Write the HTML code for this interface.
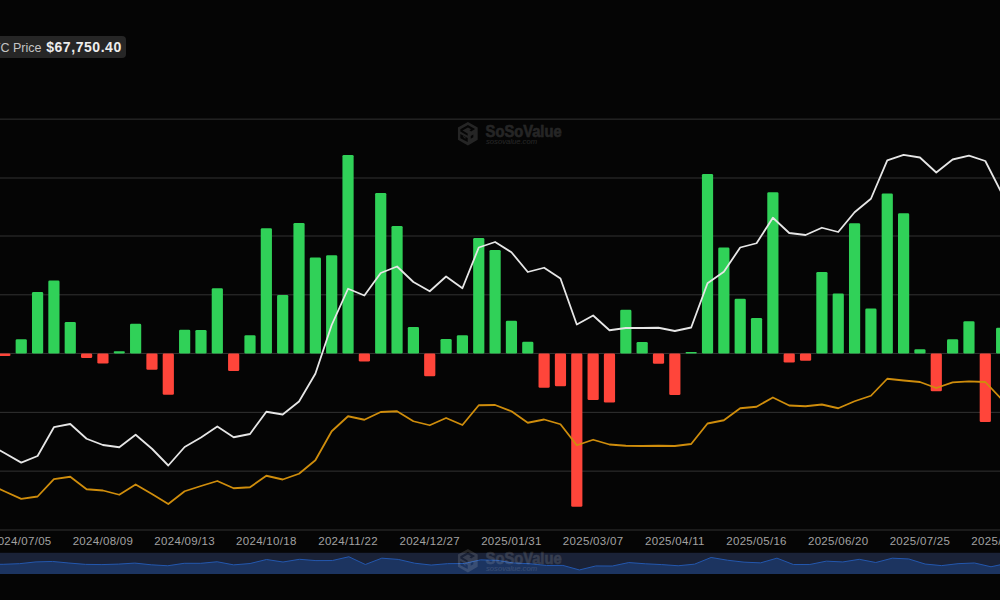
<!DOCTYPE html>
<html lang="en"><head><meta charset="utf-8"><title>BTC ETF Net Inflow</title>
<style>
html,body{margin:0;padding:0;background:#050505;}
body{width:1000px;height:600px;overflow:hidden;position:relative;font-family:"Liberation Sans",sans-serif;}
svg{position:absolute;left:0;top:0;display:block;}
svg text{font-family:"Liberation Sans",sans-serif;}
.tag{position:absolute;left:-20px;top:36.1px;width:146px;height:21.7px;background:#262626;border-radius:4px;}
.tag span{position:absolute;white-space:nowrap;}
.tag .l{left:4.5px;top:5.0px;font-size:12.5px;line-height:14px;color:#c4c4c4;}
.tag .v{left:66.2px;top:4.2px;font-size:14px;line-height:15px;font-weight:bold;letter-spacing:0.55px;color:#ededed;}
</style></head><body>
<svg width="1000" height="600" viewBox="0 0 1000 600">
<rect width="1000" height="600" fill="#050505"/>
<g stroke="#333333" stroke-width="1"><line x1="0" x2="1000" y1="119.15" y2="119.15"/><line x1="0" x2="1000" y1="178.00" y2="178.00"/><line x1="0" x2="1000" y1="236.00" y2="236.00"/><line x1="0" x2="1000" y1="294.80" y2="294.80"/><line x1="0" x2="1000" y1="353.45" y2="353.45"/><line x1="0" x2="1000" y1="412.35" y2="412.35"/><line x1="0" x2="1000" y1="471.15" y2="471.15"/><line x1="0" x2="1000" y1="530.0" y2="530.0"/></g>
<g fill="#30d158"><rect x="15.64" y="339.25" width="11.2" height="14.20" rx="1.30"/><rect x="31.98" y="292.00" width="11.2" height="61.45" rx="1.30"/><rect x="48.32" y="280.50" width="11.2" height="72.95" rx="1.30"/><rect x="64.66" y="322.00" width="11.2" height="31.45" rx="1.30"/><rect x="113.68" y="351.25" width="11.2" height="2.20" rx="1.10"/><rect x="130.02" y="323.75" width="11.2" height="29.70" rx="1.30"/><rect x="179.04" y="329.75" width="11.2" height="23.70" rx="1.30"/><rect x="195.38" y="330.00" width="11.2" height="23.45" rx="1.30"/><rect x="211.72" y="288.25" width="11.2" height="65.20" rx="1.30"/><rect x="244.40" y="335.25" width="11.2" height="18.20" rx="1.30"/><rect x="260.74" y="228.25" width="11.2" height="125.20" rx="1.30"/><rect x="277.08" y="295.00" width="11.2" height="58.45" rx="1.30"/><rect x="293.42" y="223.00" width="11.2" height="130.45" rx="1.30"/><rect x="309.76" y="257.50" width="11.2" height="95.95" rx="1.30"/><rect x="326.10" y="255.25" width="11.2" height="98.20" rx="1.30"/><rect x="342.44" y="155.00" width="11.2" height="198.45" rx="1.30"/><rect x="375.12" y="193.00" width="11.2" height="160.45" rx="1.30"/><rect x="391.46" y="226.00" width="11.2" height="127.45" rx="1.30"/><rect x="407.80" y="327.00" width="11.2" height="26.45" rx="1.30"/><rect x="440.48" y="339.00" width="11.2" height="14.45" rx="1.30"/><rect x="456.82" y="335.25" width="11.2" height="18.20" rx="1.30"/><rect x="473.16" y="238.00" width="11.2" height="115.45" rx="1.30"/><rect x="489.50" y="250.00" width="11.2" height="103.45" rx="1.30"/><rect x="505.84" y="320.75" width="11.2" height="32.70" rx="1.30"/><rect x="522.18" y="341.75" width="11.2" height="11.70" rx="1.30"/><rect x="620.22" y="309.75" width="11.2" height="43.70" rx="1.30"/><rect x="636.56" y="342.00" width="11.2" height="11.45" rx="1.30"/><rect x="685.58" y="352.00" width="11.2" height="1.45" rx="0.72"/><rect x="701.92" y="174.00" width="11.2" height="179.45" rx="1.30"/><rect x="718.26" y="247.50" width="11.2" height="105.95" rx="1.30"/><rect x="734.60" y="298.75" width="11.2" height="54.70" rx="1.30"/><rect x="750.94" y="318.00" width="11.2" height="35.45" rx="1.30"/><rect x="767.28" y="192.25" width="11.2" height="161.20" rx="1.30"/><rect x="816.30" y="272.00" width="11.2" height="81.45" rx="1.30"/><rect x="832.64" y="293.50" width="11.2" height="59.95" rx="1.30"/><rect x="848.98" y="223.25" width="11.2" height="130.20" rx="1.30"/><rect x="865.32" y="308.50" width="11.2" height="44.95" rx="1.30"/><rect x="881.66" y="193.50" width="11.2" height="159.95" rx="1.30"/><rect x="898.00" y="213.25" width="11.2" height="140.20" rx="1.30"/><rect x="914.34" y="349.25" width="11.2" height="4.20" rx="1.30"/><rect x="947.02" y="339.25" width="11.2" height="14.20" rx="1.30"/><rect x="963.36" y="321.25" width="11.2" height="32.20" rx="1.30"/><rect x="996.04" y="327.75" width="11.2" height="25.70" rx="1.30"/></g>
<g fill="#ff453a"><rect x="-0.70" y="353.55" width="11.2" height="2.45" rx="1.22"/><rect x="81.00" y="353.55" width="11.2" height="4.45" rx="1.30"/><rect x="97.34" y="353.55" width="11.2" height="9.95" rx="1.30"/><rect x="146.36" y="353.55" width="11.2" height="16.20" rx="1.30"/><rect x="162.70" y="353.55" width="11.2" height="41.20" rx="1.30"/><rect x="228.06" y="353.55" width="11.2" height="17.45" rx="1.30"/><rect x="358.78" y="353.55" width="11.2" height="7.95" rx="1.30"/><rect x="424.14" y="353.55" width="11.2" height="22.70" rx="1.30"/><rect x="538.52" y="353.55" width="11.2" height="34.20" rx="1.30"/><rect x="554.86" y="353.55" width="11.2" height="32.70" rx="1.30"/><rect x="571.20" y="353.55" width="11.2" height="153.20" rx="1.30"/><rect x="587.54" y="353.55" width="11.2" height="46.45" rx="1.30"/><rect x="603.88" y="353.55" width="11.2" height="48.95" rx="1.30"/><rect x="652.90" y="353.55" width="11.2" height="10.20" rx="1.30"/><rect x="669.24" y="353.55" width="11.2" height="41.45" rx="1.30"/><rect x="783.62" y="353.55" width="11.2" height="8.95" rx="1.30"/><rect x="799.96" y="353.55" width="11.2" height="7.20" rx="1.30"/><rect x="930.68" y="353.55" width="11.2" height="37.70" rx="1.30"/><rect x="979.70" y="353.55" width="11.2" height="68.45" rx="1.30"/></g>
<polyline points="-11.44,484.20 4.90,491.50 21.24,498.85 37.58,496.50 53.92,479.10 70.26,476.75 86.60,489.25 102.94,490.50 119.28,494.75 135.62,484.50 151.96,494.00 168.30,504.00 184.64,491.25 200.98,486.00 217.32,481.00 233.66,488.25 250.00,487.25 266.34,475.75 282.68,479.50 299.02,473.75 315.36,460.25 331.70,431.25 348.04,416.25 364.38,419.75 380.72,412.00 397.06,411.25 413.40,421.25 429.74,425.25 446.08,418.00 462.42,425.00 478.76,405.25 495.10,405.00 511.44,411.25 527.78,422.75 544.12,419.50 560.46,424.25 576.80,445.25 593.14,439.75 609.48,444.50 625.82,445.75 642.16,446.00 658.50,445.75 674.84,446.00 691.18,444.00 707.52,423.50 723.86,420.25 740.20,408.25 756.54,406.75 772.88,397.50 789.22,405.50 805.56,406.25 821.90,404.50 838.24,408.25 854.58,401.25 870.92,395.75 887.26,378.75 903.60,380.50 919.94,382.00 936.28,388.00 952.62,382.45 968.96,381.40 985.30,382.00 1001.64,399.30" fill="none" stroke="#cf8d0c" stroke-width="1.8" stroke-linejoin="round"/>
<polyline points="-11.44,443.80 4.90,453.30 21.24,462.60 37.58,456.00 53.92,427.20 70.26,424.00 86.60,438.75 102.94,445.00 119.28,447.25 135.62,434.75 151.96,448.75 168.30,465.50 184.64,447.00 200.98,437.50 217.32,426.50 233.66,437.25 250.00,434.00 266.34,411.75 282.68,414.50 299.02,401.50 315.36,373.75 331.70,325.00 348.04,288.75 364.38,295.50 380.72,273.00 397.06,266.50 413.40,282.00 429.74,291.25 446.08,276.50 462.42,288.25 478.76,247.50 495.10,242.00 511.44,252.25 527.78,272.00 544.12,267.75 560.46,278.50 576.80,324.50 593.14,315.50 609.48,330.25 625.82,328.00 642.16,328.00 658.50,327.75 674.84,331.00 691.18,327.50 707.52,283.25 723.86,271.75 740.20,247.50 756.54,243.25 772.88,217.75 789.22,233.00 805.56,235.00 821.90,227.75 838.24,232.00 854.58,212.25 870.92,198.75 887.26,160.30 903.60,154.90 919.94,157.50 936.28,172.50 952.62,159.50 968.96,155.70 985.30,161.00 1001.64,193.00" fill="none" stroke="#e6e6e6" stroke-width="1.8" stroke-linejoin="round"/>
<g font-size="11.5" letter-spacing="0.3" fill="#a2a2a2" text-anchor="middle"><text x="21.24" y="544.85">2024/07/05</text><text x="102.94" y="544.85">2024/08/09</text><text x="184.64" y="544.85">2024/09/13</text><text x="266.34" y="544.85">2024/10/18</text><text x="348.04" y="544.85">2024/11/22</text><text x="429.74" y="544.85">2024/12/27</text><text x="511.44" y="544.85">2025/01/31</text><text x="593.14" y="544.85">2025/03/07</text><text x="674.84" y="544.85">2025/04/11</text><text x="756.54" y="544.85">2025/05/16</text><text x="838.24" y="544.85">2025/06/20</text><text x="919.94" y="544.85">2025/07/25</text><text x="1001.64" y="544.85">2025/08/29</text></g>
<rect x="0" y="552.8" width="1000" height="21.20" fill="#1a2237"/>
<polygon points="-12,574.0 -12.00,564.30 3.10,564.30 19.57,563.67 36.03,561.90 52.49,561.46 68.96,563.02 85.42,564.37 101.89,564.58 118.35,564.12 134.82,563.09 151.28,564.81 167.75,565.75 184.22,563.31 200.68,563.32 217.14,561.75 233.61,564.86 250.07,563.52 266.54,559.50 283.00,562.01 299.47,559.31 315.94,560.60 332.40,560.52 348.87,556.76 365.33,564.50 381.80,558.18 398.26,559.42 414.73,563.21 431.19,565.06 447.66,563.66 464.12,563.52 480.59,559.87 497.05,560.32 513.51,562.97 529.98,563.76 546.45,565.49 562.91,565.43 579.38,569.95 595.84,565.95 612.31,566.04 628.77,562.56 645.24,563.77 661.70,564.59 678.16,565.76 694.63,564.15 711.10,557.47 727.56,560.23 744.02,562.15 760.49,562.87 776.96,558.16 793.42,564.54 809.88,564.47 826.35,561.15 842.82,561.95 859.28,559.32 875.75,562.51 892.21,558.20 908.68,558.94 925.14,564.04 941.61,565.62 958.07,563.67 974.53,562.99 991.00,566.77 1007.47,563.24 1010,574.0" fill="#1c3460"/>
<polyline points="-12.00,564.30 3.10,564.30 19.57,563.67 36.03,561.90 52.49,561.46 68.96,563.02 85.42,564.37 101.89,564.58 118.35,564.12 134.82,563.09 151.28,564.81 167.75,565.75 184.22,563.31 200.68,563.32 217.14,561.75 233.61,564.86 250.07,563.52 266.54,559.50 283.00,562.01 299.47,559.31 315.94,560.60 332.40,560.52 348.87,556.76 365.33,564.50 381.80,558.18 398.26,559.42 414.73,563.21 431.19,565.06 447.66,563.66 464.12,563.52 480.59,559.87 497.05,560.32 513.51,562.97 529.98,563.76 546.45,565.49 562.91,565.43 579.38,569.95 595.84,565.95 612.31,566.04 628.77,562.56 645.24,563.77 661.70,564.59 678.16,565.76 694.63,564.15 711.10,557.47 727.56,560.23 744.02,562.15 760.49,562.87 776.96,558.16 793.42,564.54 809.88,564.47 826.35,561.15 842.82,561.95 859.28,559.32 875.75,562.51 892.21,558.20 908.68,558.94 925.14,564.04 941.61,565.62 958.07,563.67 974.53,562.99 991.00,566.77 1007.47,563.24" fill="none" stroke="#2357ae" stroke-width="1"/>
<g transform="translate(0,0)" opacity="0.125" fill="#ffffff">
<path fill-rule="evenodd" d="M467.92 122.08L477.66 127.50L477.66 139.63L467.92 145.48L457.95 139.63L457.95 127.50ZM460.33 129.23L467.92 125.12L475.06 129.02L471.16 131.40L469.43 130.32L471.16 129.23L467.92 127.50L462.50 130.53L467.70 133.56L467.70 135.73L460.33 131.62ZM460.33 134.00L467.70 138.11L467.70 142.01L460.33 138.33ZM470.73 135.95L473.33 134.52L473.33 137.25L470.73 138.68Z"/><path d="M463.15 135.95L465.53 137.25L465.53 138.76L464.45 138.20L464.45 137.68L463.15 136.94Z"/>
<text x="485.6" y="136.9" font-size="16.6" font-weight="bold" stroke="#ffffff" stroke-width="0.55" textLength="76" lengthAdjust="spacingAndGlyphs">SoSoValue</text>
<text x="486" y="144.4" font-size="7.4" font-style="italic" textLength="51" lengthAdjust="spacingAndGlyphs">sosovalue.com</text>
</g>
<g transform="translate(0,427)" opacity="0.125" fill="#ffffff">
<path fill-rule="evenodd" d="M467.92 122.08L477.66 127.50L477.66 139.63L467.92 145.48L457.95 139.63L457.95 127.50ZM460.33 129.23L467.92 125.12L475.06 129.02L471.16 131.40L469.43 130.32L471.16 129.23L467.92 127.50L462.50 130.53L467.70 133.56L467.70 135.73L460.33 131.62ZM460.33 134.00L467.70 138.11L467.70 142.01L460.33 138.33ZM470.73 135.95L473.33 134.52L473.33 137.25L470.73 138.68Z"/><path d="M463.15 135.95L465.53 137.25L465.53 138.76L464.45 138.20L464.45 137.68L463.15 136.94Z"/>
<text x="485.6" y="136.9" font-size="16.6" font-weight="bold" stroke="#ffffff" stroke-width="0.55" textLength="76" lengthAdjust="spacingAndGlyphs">SoSoValue</text>
<text x="486" y="144.4" font-size="7.4" font-style="italic" textLength="51" lengthAdjust="spacingAndGlyphs">sosovalue.com</text>
</g>
</svg>
<div class="tag"><span class="l">BTC Price</span><span class="v">$67,750.40</span></div>
</body></html>
